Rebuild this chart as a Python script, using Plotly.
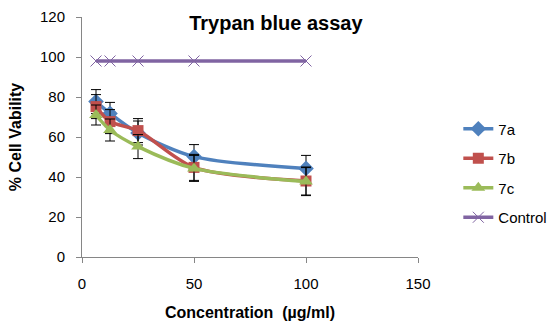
import plotly.graph_objects as go

conc = [6.25, 12.5, 25, 50, 100]
v7a = [77.7, 71.8, 62.0, 50.2, 44.3]
v7b = [75.2, 67.7, 63.2, 44.8, 38.0]
v7c = [71.0, 63.5, 55.2, 44.3, 37.7]
ctrl = [98, 98, 98, 98, 98]
e7a = [6, 5.5, 6, 6, 6.5]
e7b = [6, 6, 6, 6.5, 7]
e7c = [5, 5.5, 6, 6.5, 7]

fig = go.Figure()
series = [
    ("7a", v7a, e7a, "#4F81BD", "diamond", 12),
    ("7b", v7b, e7b, "#C0504D", "square", 11),
    ("7c", v7c, e7c, "#9BBB59", "triangle-up", 12),
]
for name, v, e, c, sym, sz in series:
    fig.add_trace(go.Scatter(
        x=conc, y=v, name=name, mode="lines+markers", legendgroup=name,
        line=dict(color=c, width=3.5, shape="spline", smoothing=0.8),
        marker=dict(symbol=sym, size=sz, color=c),
        error_y=dict(type="data", array=e, visible=True, color="black", thickness=1, width=5),
    ))
fig.add_trace(go.Scatter(
    x=conc, y=ctrl, name="Control", mode="lines+markers", legendgroup="Control",
    line=dict(color="#8064A2", width=3.5),
    marker=dict(symbol="x-thin", size=11, line=dict(color="#8064A2", width=1)),
))

axis_common = dict(showgrid=False, zeroline=False, showline=True, linecolor="#868686",
                   linewidth=1, ticks="outside", tickcolor="#868686", ticklen=5,
                   tickfont=dict(family="Arial", size=15, color="black"))
fig.update_layout(
    width=554, height=332,
    margin=dict(l=82, r=136, t=17, b=75, autoexpand=False),
    paper_bgcolor="white", plot_bgcolor="white",
    title=dict(text="<b>Trypan blue assay</b>", xref="paper", x=0.577, xanchor="center",
               yref="container", y=0.931, yanchor="middle",
               font=dict(family="Arial", size=20, color="black")),
    xaxis=dict(range=[0, 150], tickvals=[0, 50, 100, 150], ticklabelstandoff=8, **axis_common,
               title=dict(text="<b>Concentration  (µg/ml)</b>", font=dict(family="Arial", size=16, color="black"), standoff=15)),
    yaxis=dict(range=[0, 120], tickvals=[0, 20, 40, 60, 80, 100, 120], ticklabelstandoff=8, **axis_common,
               title=dict(text="<b>% Cell Vability</b>", font=dict(family="Arial", size=16, color="black"), standoff=14)),
    legend=dict(x=1.12, y=0.35, xanchor="left", yanchor="middle", font=dict(family="Arial", size=15, color="black"),
                tracegroupgap=7, bgcolor="rgba(0,0,0,0)"),
    showlegend=True,
)
fig.write_html("out.html")
